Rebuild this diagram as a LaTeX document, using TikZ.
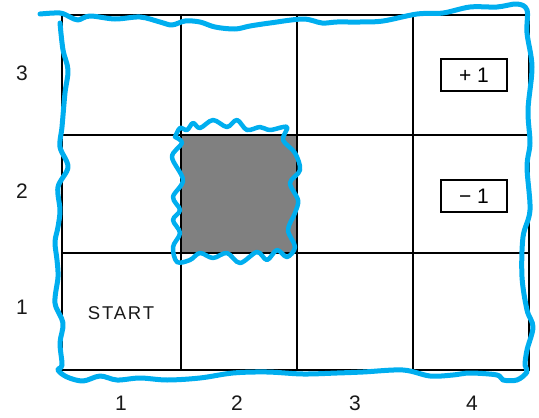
\documentclass[tikz,border=0pt]{standalone}
\usepackage{fontspec}
\setmainfont{Liberation Sans}
\begin{document}
\begin{tikzpicture}[x=1pt,y=-1pt,
  gridline/.style={line width=1.8pt,black},
  lbl/.style={font=\fontsize{21}{21}\selectfont,text=black!90,inner sep=0pt},
  rbox/.style={draw,line width=1.6pt,minimum width=66pt,minimum height=32pt,inner sep=0pt,font=\fontsize{21}{21}\selectfont},
  blueline/.style={draw={rgb,255:red,0;green,174;blue,239},line width=5pt,line cap=round,line join=round}]
\useasboundingbox (0,0) rectangle (539,418);
\fill[fill={rgb,255:red,128;green,128;blue,128}] (181,135) rectangle (297,253);
\draw[gridline] (62,15) rectangle (529,370);
\foreach \x in {181,297,413} \draw[gridline] (\x,15) -- (\x,370);
\foreach \y in {135,253} \draw[gridline] (62,\y) -- (529,\y);
\node[rbox] (plus) at (474,75) {+ 1};
\node[rbox] (minus) at (474,196) {− 1};
\node[lbl,font=\fontsize{18.5}{18.5}\selectfont\addfontfeatures{LetterSpace=10}] (start) at (121,313) {START};
\node[lbl] (r3) at (22,73) {3};
\node[lbl] (r2) at (22,191) {2};
\node[lbl] (r1) at (22,307) {1};
\node[lbl] (c1) at (121,403) {1};
\node[lbl] (c2) at (237,403) {2};
\node[lbl] (c3) at (355,403) {3};
\node[lbl] (c4) at (472,403) {4};
\draw[blueline] plot[smooth,tension=0.55] coordinates {
 (40,14) (60,13) (70,17) (78,20) (90,16) (115,19) (140,17) (160,22) (172,25) (185,21)
 (200,22) (215,27) (235,29) (250,26) (270,23) (303,19) (322,23) (337,22) (360,22) (383,21)
 (417,14) (443,13) (470,7) (497,7) (517,4) (527,10) (527,33) (532,67) (528,110) (530,143)
 (527,167) (530,210) (523,237) (522,277) (527,310) (533,327) (527,350) (525,365) (527,372)
 (517,380) (503,380) (497,375) (470,373) (453,375) (430,376) (403,370) (363,372) (337,373)
 (303,374) (267,372) (233,373) (200,378) (167,380) (140,378) (117,380) (100,376) (83,381)
 (67,377) (58,370) (62,365) (60,343) (63,323) (55,303) (58,277) (57,260) (55,242) (58,227)
 (60,210) (58,187) (68,167) (60,147) (62,127) (65,93) (68,70) (63,50) (60,23)};
\draw[blueline,line width=4.5pt] plot[smooth,tension=0.55] coordinates {
 (175,137) (180,128) (187,130) (193,123) (200,128) (213,120) (227,127) (237,120) (247,130)
 (260,127) (270,130) (287,127) (283,140) (295,153) (300,170) (290,183) (298,200) (295,213)
 (288,230) (295,247) (287,257) (277,250) (267,260) (257,252) (240,263) (227,253) (213,258)
 (200,253) (190,260) (177,262) (173,247) (180,233) (173,220) (180,210) (173,197) (183,180)
 (172,157) (182,143) (175,137)};
\end{tikzpicture}
\end{document}
